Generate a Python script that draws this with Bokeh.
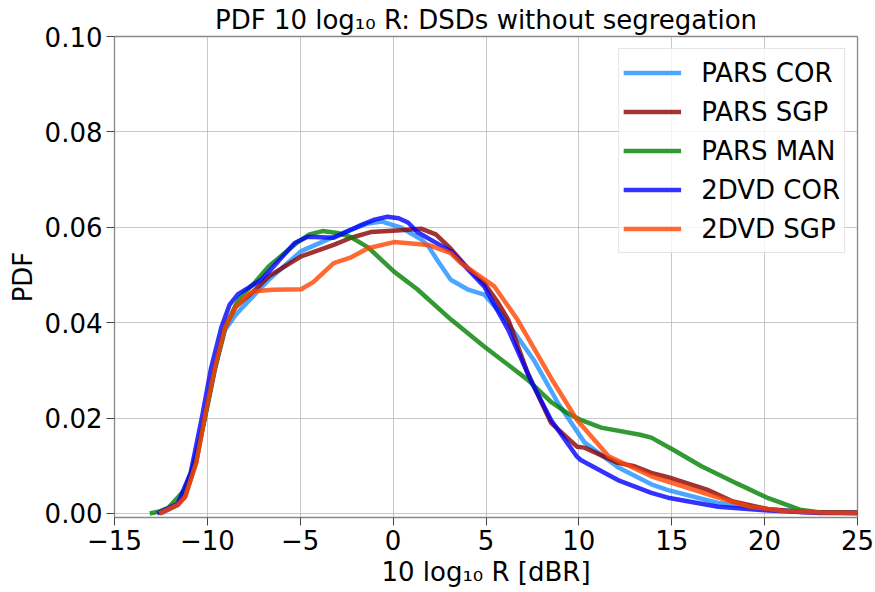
from bokeh.plotting import figure
from bokeh.models import Range1d, FixedTicker, Legend, LegendItem
from bokeh.embed import file_html
from bokeh.resources import INLINE

# ---- data ----
pars_cor_x = [-12.5, -11.6, -10.9, -10.15, -9.6, -9.05, -8.5, -8.2, -7.45, -6.7, -4.95, -3.2, -2.26, -1.35, -0.6,
              0.4, 1.5, 1.9, 2.4, 3.1, 4.0, 4.9, 5.8, 6.7, 7.6, 8.9, 10.3, 12.1, 13.9, 14.8, 17.5, 20.2, 23.0, 25.0]
pars_cor_y = [0.0, 0.0018, 0.0080, 0.0195, 0.0300, 0.0385, 0.0415, 0.0428, 0.0459, 0.0490, 0.0550, 0.0580, 0.0595,
              0.0608, 0.0612, 0.0600, 0.0575, 0.0560, 0.0530, 0.0490, 0.0470, 0.0459, 0.0420, 0.0370, 0.0320, 0.0230,
              0.0149, 0.0097, 0.0061, 0.0049, 0.0022, 0.0009, 0.0002, 0.0001]

pars_sgp_x = [-12.6, -11.6, -11.2, -10.6, -10.15, -9.6, -9.05, -8.5, -7.45, -6.7, -4.95, -3.2, -2.26, -1.2, 0.4, 1.5,
              2.3, 3.1, 4.0, 4.9, 5.6, 6.2, 7.25, 8.5, 9.9, 10.3, 12.1, 13.0, 13.9, 14.8, 16.9, 18.3, 20.2, 22.0, 25.0]
pars_sgp_y = [0.0, 0.0018, 0.0035, 0.0107, 0.0200, 0.0305, 0.0390, 0.0432, 0.0468, 0.0497, 0.0539, 0.0563, 0.0578,
              0.0590, 0.0594, 0.0597, 0.0585, 0.0555, 0.0515, 0.0483, 0.0445, 0.0406, 0.0294, 0.0190, 0.0140, 0.0138,
              0.0106, 0.0099, 0.0085, 0.0076, 0.0050, 0.0025, 0.0009, 0.0003, 0.0002]

pars_man_x = [-13.1, -12.6, -12.1, -11.2, -10.7, -10.15, -9.6, -9.05, -8.5, -8.2, -7.45, -6.7, -5.1, -4.5, -3.8, -3.0,
              -2.3, -1.35, 0.05, 1.3, 3.1, 4.9, 7.25, 8.5, 9.4, 10.1, 11.2, 13.3, 13.9, 15.1, 16.6, 18.5, 20.2, 21.9,
              23.0, 25.0]
pars_man_y = [0.0, 0.0004, 0.0012, 0.0050, 0.0107, 0.0200, 0.0305, 0.0390, 0.0435, 0.0455, 0.0484, 0.0518, 0.0570,
              0.0585, 0.0592, 0.0588, 0.0580, 0.0558, 0.0507, 0.0470, 0.0407, 0.0350, 0.0280, 0.0234, 0.0210, 0.0196,
              0.0180, 0.0165, 0.0159, 0.0133, 0.0099, 0.0063, 0.0032, 0.0008, 0.0002, 0.0001]

dvd_cor_x = [-12.7, -11.6, -10.9, -10.3, -9.8, -9.25, -8.8, -8.35, -7.8, -7.1, -6.2, -5.3, -4.6, -3.2, -1.7, -1.0,
             -0.3, 0.3, 0.8, 1.3, 2.2, 3.1, 4.9, 6.2, 7.4, 8.5, 9.9, 10.1, 12.1, 13.9, 14.8, 17.5, 20.2, 23.0, 25.0]
dvd_cor_y = [0.0, 0.0020, 0.0085, 0.0200, 0.0305, 0.0390, 0.0438, 0.0460, 0.0473, 0.0490, 0.0528, 0.0567, 0.0580,
             0.0578, 0.0605, 0.0616, 0.0622, 0.0619, 0.0610, 0.0590, 0.0570, 0.0550, 0.0476, 0.0385, 0.0280, 0.0196,
             0.0119, 0.0112, 0.0070, 0.0043, 0.0033, 0.0014, 0.0006, 0.0001, 0.0001]

dvd_sgp_x = [-12.6, -11.6, -11.2, -10.6, -10.15, -9.6, -9.05, -8.5, -7.8, -7.45, -6.5, -4.95, -4.3, -3.2, -2.26, -1.35,
             0.05, 1.9, 3.1, 3.65, 5.45, 6.7, 8.5, 9.9, 11.6, 13.9, 15.6, 17.5, 19.2, 21.0, 23.0, 25.0]
dvd_sgp_y = [0.0, 0.0018, 0.0035, 0.0107, 0.0200, 0.0305, 0.0390, 0.0432, 0.0459, 0.0466, 0.0469, 0.0470, 0.0485,
             0.0525, 0.0537, 0.0556, 0.0569, 0.0563, 0.0546, 0.0525, 0.0476, 0.0406, 0.0284, 0.0196, 0.0120, 0.0078,
             0.0057, 0.0033, 0.0014, 0.0005, 0.0002, 0.0001]

series_names = ["PARS COR", "PARS SGP", "PARS MAN", "2DVD COR", "2DVD SGP"]
series_colors = ["#1e90ff", "#8b0000", "#008000", "#0000ff", "#ff4500"]
series_xs = [pars_cor_x, pars_sgp_x, pars_man_x, dvd_cor_x, dvd_sgp_x]
series_ys = [pars_cor_y, pars_sgp_y, pars_man_y, dvd_cor_y, dvd_sgp_y]

x_ticks = [-15, -10, -5, 0, 5, 10, 15, 20, 25]
y_ticks = [0.0, 0.02, 0.04, 0.06, 0.08, 0.10]

FONT = "DejaVu Sans"
FS = "26px"
TXT = "#000000"

p = figure(width=875, height=592, output_backend="svg", toolbar_location=None,
           x_range=Range1d(-15, 25), y_range=Range1d(-0.00085, 0.1),
           title="PDF 10 log\u2081\u2080 R: DSDs without segregation",
           min_border_left=114, min_border_right=18, min_border_top=30, min_border_bottom=75)

p.title.text_font = FONT
p.title.text_font_size = FS
p.title.text_font_style = "normal"
p.title.text_color = TXT
p.title.align = "center"
p.title.offset = 0
p.title.standoff = 4

renderers = []
for xs, ys, c in zip(series_xs, series_ys, series_colors):
    r = p.line(xs, ys, line_color=c, line_alpha=0.8, line_width=4.5)
    renderers.append(r)

legend = Legend(items=[LegendItem(label=n, renderers=[r]) for n, r in zip(series_names, renderers)],
                location="top_right")
legend.label_text_font = FONT
legend.label_text_font_size = FS
legend.label_text_color = TXT
legend.glyph_width = 58
legend.glyph_height = 39
legend.label_height = 39
legend.spacing = 0
legend.padding = 4
legend.margin = 12
legend.label_standoff = 20
legend.border_line_color = "#cccccc"
legend.border_line_width = 1
legend.background_fill_alpha = 0.8
p.add_layout(legend)

for ax in (p.xaxis[0], p.yaxis[0]):
    ax.major_label_text_font = FONT
    ax.major_label_text_font_size = FS
    ax.major_label_text_color = TXT
    ax.axis_label_text_font = FONT
    ax.axis_label_text_font_size = FS
    ax.axis_label_text_font_style = "normal"
    ax.axis_label_text_color = TXT
    ax.axis_line_color = None
    ax.major_tick_in = 0
    ax.major_tick_out = 8
    ax.major_tick_line_color = "#444444"
    ax.minor_tick_line_color = None
    ax.major_label_standoff = 4
    ax.axis_label_standoff = 4

p.xaxis.ticker = FixedTicker(ticks=x_ticks)
p.yaxis.ticker = FixedTicker(ticks=y_ticks)
p.xaxis.major_label_overrides = {t: (str(t).replace("-", "\u2212")) for t in x_ticks}
p.yaxis.major_label_overrides = {t: f"{t:.2f}" for t in y_ticks}
p.xaxis.axis_label = "10 log\u2081\u2080 R [dBR]"
p.yaxis.axis_label = "PDF"

p.grid.grid_line_color = "#b0b0b0"
p.grid.grid_line_alpha = 0.7
p.outline_line_color = "#888888"
p.outline_line_width = 1.3

open("out.html", "w").write(file_html(p, INLINE))
